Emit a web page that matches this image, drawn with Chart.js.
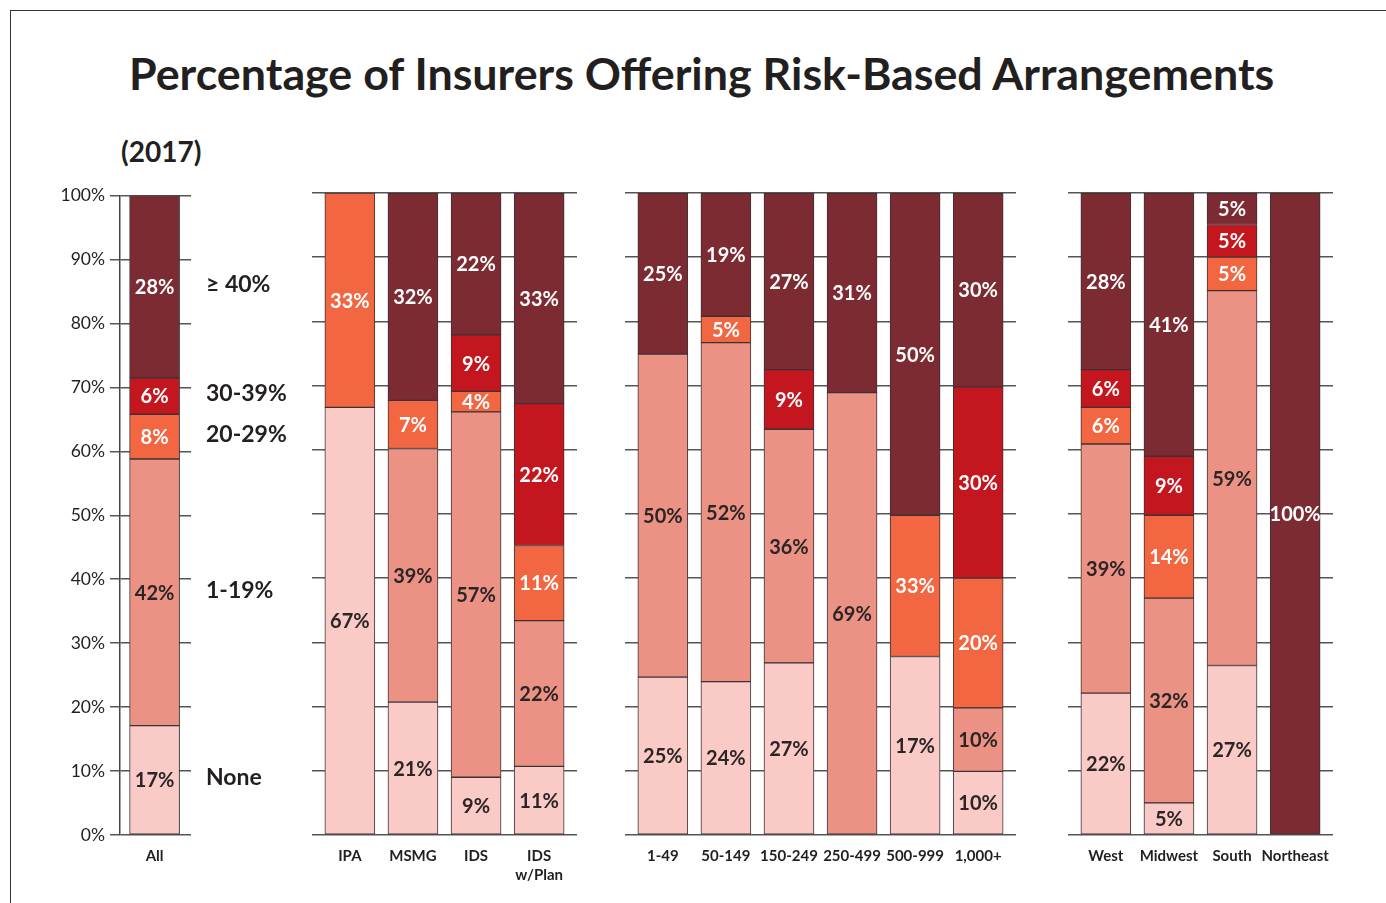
<!DOCTYPE html>
<html lang="en">
<head>
  <meta charset="UTF-8">
  <title>Percentage of Insurers Offering Risk-Based Arrangements</title>
  <style>
    body {
      margin: 0;
      background: #fff;
      overflow: hidden;
      font-family: Lato, "Open Sans", sans-serif;
      color: #231f20;
    }
    #frame {
      position: absolute;
      left: 10px;
      top: 10px;
      width: 1400px;
      height: 1000px;
      border: 1px solid #333;
    }
    #title {
      position: absolute;
      left: 129px;
      top: 51px;
      font-size: 44.8px;
      line-height: 44px;
      font-weight: bold;
      white-space: nowrap;
    }
    #year {
      position: absolute;
      left: 121px;
      top: 137px;
      font-size: 28px;
      line-height: 28px;
      font-weight: bold;
    }
    canvas {
      position: absolute;
      top: 180px;
    }
  </style>
</head>
<body>
  <div id="frame"></div>
  <div id="title">Percentage of Insurers Offering Risk-Based Arrangements</div>
  <div id="year">(2017)</div>

  <canvas id="c0"></canvas>
  <canvas id="c1"></canvas>
  <canvas id="c2"></canvas>
  <canvas id="c3"></canvas>

  <script src="https://cdn.jsdelivr.net/npm/chart.js"></script>
  <script>
    // categories, split into the four panels
    const categories = ['All', 'IPA', 'MSMG', 'IDS', ['IDS', 'w/Plan'],
      '1-49', '50-149', '150-249', '250-499', '500-999', '1,000+',
      'West', 'Midwest', 'South', 'Northeast'];
    const groupSizes = [1, 4, 6, 4];

    const seriesNames = ['None', '1-19%', '20-29%', '30-39%', '\u2265 40%'];

    // segment heights (% of insurers)
    const noneVals = [17.1, 66.6, 20.7, 9.0, 10.7, 24.6, 23.9, 26.8, 0, 27.8, 9.9, 22.1, 5.0, 26.4, 0];
    const lowVals  = [41.7, 0, 39.5, 56.9, 22.7, 50.3, 52.8, 36.4, 68.9, 0, 9.9, 38.8, 31.9, 58.4, 0];
    const midVals  = [7.0, 33.4, 7.5, 3.2, 11.7, 0, 4.1, 0, 0, 22.0, 20.2, 5.7, 12.9, 5.2, 0];
    const highVals = [5.7, 0, 0, 8.8, 22.1, 0, 0, 9.3, 0, 0, 29.8, 5.9, 9.2, 5.1, 0];
    const topVals  = [28.5, 0, 32.3, 22.1, 32.8, 25.1, 19.2, 27.5, 31.1, 50.2, 30.2, 27.5, 41.0, 4.9, 100];

    // the percentages printed on the segments
    const noneText = ['17%', '67%', '21%', '9%', '11%', '25%', '24%', '27%', '', '17%', '10%', '22%', '5%', '27%', ''];
    const lowText  = ['42%', '', '39%', '57%', '22%', '50%', '52%', '36%', '69%', '', '10%', '39%', '32%', '59%', ''];
    const midText  = ['8%', '33%', '7%', '4%', '11%', '', '5%', '', '', '33%', '20%', '6%', '14%', '5%', ''];
    const highText = ['6%', '', '', '9%', '22%', '', '', '9%', '', '', '30%', '6%', '9%', '5%', ''];
    const topText  = ['28%', '', '32%', '22%', '33%', '25%', '19%', '27%', '31%', '50%', '30%', '28%', '41%', '5%', '100%'];

    const yTicks = [0, 10, 20, 30, 40, 50, 60, 70, 80, 90, 100];

    const series = [
      { vals: noneVals, text: noneText, color: '#f9cac6', ink: '#2b2526' },
      { vals: lowVals,  text: lowText,  color: '#ec9285', ink: '#2b2526' },
      { vals: midVals,  text: midText,  color: '#f26741', ink: '#ffffff' },
      { vals: highVals, text: highText, color: '#c3161e', ink: '#ffffff' },
      { vals: topVals,  text: topText,  color: '#7d2b32', ink: '#ffffff' }
    ];

    // panel placement on the page
    const groupLefts = [120, 312, 625, 1068];
    const groupWidths = [71, 265, 391, 265];

    const segmentText = {
      id: 'segmentText',
      afterDatasetsDraw(chart) {
        const ctx = chart.ctx;
        ctx.save();
        ctx.font = 'bold 20px Lato';
        ctx.textAlign = 'center';
        ctx.textBaseline = 'middle';
        chart.data.datasets.forEach((ds, d) => {
          chart.getDatasetMeta(d).data.forEach((bar, i) => {
            const t = ds.valueText[i];
            if (!t) return;
            ctx.fillStyle = ds.ink;
            ctx.fillText(t, bar.x, (bar.y + bar.base) / 2 + 1);
          });
        });
        ctx.restore();
      }
    };

    // series names written beside the "All" bar
    const sideLegend = {
      id: 'sideLegend',
      afterDatasetsDraw(chart) {
        const ctx = chart.ctx;
        ctx.save();
        ctx.font = 'bold 23px Lato';
        ctx.fillStyle = '#231f20';
        ctx.textBaseline = 'middle';
        chart.data.datasets.forEach((ds, d) => {
          const bar = chart.getDatasetMeta(d).data[0];
          ctx.fillText(ds.label, chart.chartArea.right + 15, (bar.y + bar.base) / 2 - 2);
        });
        ctx.restore();
      }
    };

    function makeChart(g) {
      const start = groupSizes.slice(0, g).reduce((a, b) => a + b, 0);
      const n = groupSizes[g];
      const names = categories.slice(start, start + n);
      const first = g === 0;
      const axisW = first ? 120 : 0;
      const padL = first ? 0 : 20;
      const padR = first ? 109 : 20;

      const canvas = document.getElementById('c' + g);
      canvas.width = axisW + padL + groupWidths[g] + padR;
      canvas.height = 720;
      canvas.style.left = (groupLefts[g] - axisW - padL) + 'px';

      return new Chart(canvas, {
        type: 'bar',
        data: {
          labels: names.map((_, i) => i),
          datasets: series.map((s, d) => ({
            label: seriesNames[d],
            data: s.vals.slice(start, start + n),
            valueText: s.text.slice(start, start + n),
            ink: s.ink,
            backgroundColor: s.color,
            borderColor: '#3b3335',
            borderWidth: 1,
            borderSkipped: false,
            barThickness: 50
          }))
        },
        options: {
          responsive: false,
          animation: false,
          layout: { padding: { left: padL, right: padR, top: 13, bottom: 0 } },
          plugins: {
            legend: { display: false },
            tooltip: { enabled: false }
          },
          scales: {
            x: {
              type: 'linear',
              stacked: true,
              offset: false,
              min: first ? -0.57 : -0.6,
              max: n - 0.4,
              grid: { display: false, drawTicks: false },
              border: { display: false },
              afterBuildTicks: s => { s.ticks = names.map((_, i) => ({ value: i })); },
              afterFit: s => { s.height = 65; },
              ticks: {
                autoSkip: false,
                maxRotation: 0,
                padding: 12,
                color: '#231f20',
                font: { family: 'Lato', size: 15, weight: 'bold', lineHeight: 1.25 },
                callback: v => names[v]
              }
            },
            y: {
              stacked: true,
              min: 0,
              max: 100,
              afterBuildTicks: s => { s.ticks = yTicks.map(v => ({ value: v })); },
              afterFit: s => { s.width = axisW; },
              ticks: {
                display: first,
                padding: 5,
                color: '#231f20',
                font: { family: 'Lato', size: 17.5 },
                callback: v => v + '%'
              },
              grid: {
                color: '#555',
                lineWidth: 1.5,
                drawTicks: first,
                tickLength: 10
              },
              border: { display: first, color: '#444', width: 1.5 }
            }
          }
        },
        plugins: first ? [segmentText, sideLegend] : [segmentText]
      });
    }

    groupSizes.forEach((_, g) => makeChart(g));
  </script>
</body>
</html>
